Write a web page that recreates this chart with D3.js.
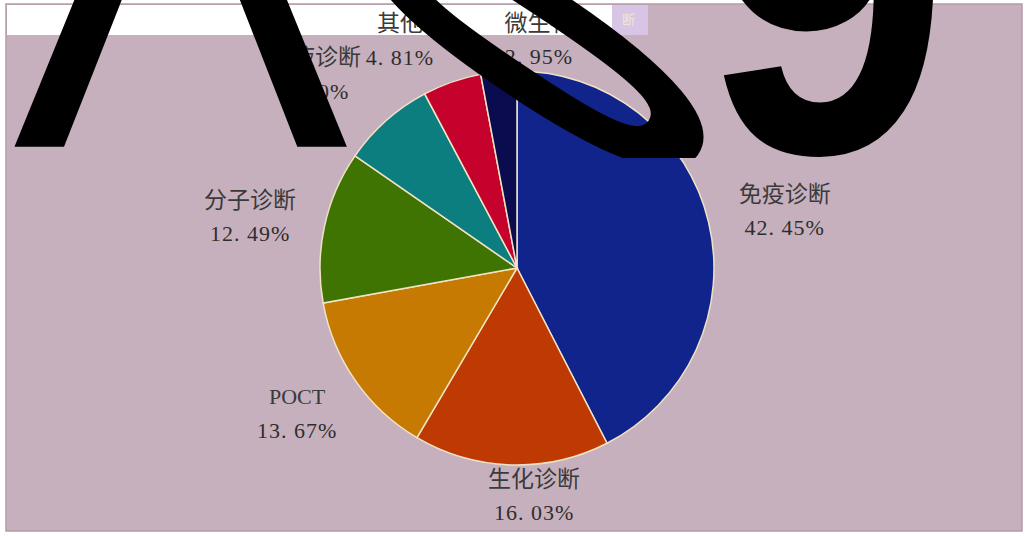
<!DOCTYPE html>
<html>
<head>
<meta charset="utf-8">
<script src="https://cdn.jsdelivr.net/npm/d3@7"></script>
<style>
body{margin:0;background:#fff}
svg{display:block}
</style>
</head>
<body>
<svg id="pie-svg" width="1027" height="536"></svg>
<script>
// 各细分市场份额
var names=['免疫诊断','生化诊断','POCT','分子诊断','血液诊断','其他','微生物']
var values=[42.45,16.03,13.67,12.49,7.60,4.81,2.95]
var colors=['#11248c','#bf3a02','#c77a02','#3f7402','#0c7e80','#c4022c','#0b0b4f']
// where each label sits: [angle in degrees from 12 o'clock, radius factor]
var labelAt=[[77.9,1.39],[175.7,1.158],[236.5,1.339],[280.9,1.38],[313.8,1.42],[332.8,1.30],[5.5,1.165]]

var svg=d3.select('#pie-svg')
var conf={cx:517,cy:268,r:197}

// chart area
svg.append('rect').attr('x',6).attr('y',4).attr('width',1016).attr('height',527)
    .attr('fill','#c7b0bd').attr('stroke','#b49ba9').attr('stroke-width',1.5)
svg.append('rect').attr('x',7).attr('y',5).attr('width',605).attr('height',30).attr('fill','#fff')
svg.append('rect').attr('x',612).attr('y',5).attr('width',36).attr('height',30).attr('fill','#d8c5e5')
svg.append('text').attr('x',622).attr('y',24).attr('font-size',13)
    .attr('font-family','Noto Sans CJK SC').attr('fill','#efe6cf').text('断')

var data=names.map((n,i)=>({name:n,value:values[i],color:colors[i],at:labelAt[i]}))
var pie=d3.pie().sort(null).value(d=>d.value)
var arc=d3.arc().innerRadius(0).outerRadius(conf.r)
var g=svg.append('g').attr('id','pie').attr('transform',`translate(${conf.cx},${conf.cy})`)
g.selectAll('path')
    .data(pie(data))
    .join('path')
    .attr('d',arc)
    .attr('fill',d=>d.data.color)
    .attr('stroke','#efe3c4')
    .attr('stroke-width',1.5)

var fmt=d3.format('.2f')
var lab=g.append('g').attr('id','labels')
    .selectAll('g')
    .data(data)
    .join('g')
    .attr('transform',d=>{
        var a=d.at[0]*Math.PI/180, k=d.at[1]*conf.r
        return `translate(${k*Math.sin(a)},${-k*Math.cos(a)})`
    })
lab.append('text')
    .attr('y',-17)
    .attr('dy','0.35em')
    .attr('text-anchor','middle')
    .attr('font-family','"Liberation Serif","Noto Sans CJK SC"')
    .attr('font-size',d=>d.name=='POCT'?22:23)
    .attr('fill','#3a3a3a')
    .text(d=>d.name)
lab.append('text')
    .attr('y',17)
    .attr('dy','0.35em')
    .attr('text-anchor','middle')
    .attr('font-family','"Liberation Serif"')
    .attr('font-size',22)
    .attr('letter-spacing',1)
    .attr('fill','#2e2e2e')
    .text(d=>fmt(d.value).replace('.','. ')+'%')

// big black glyphs lying over the top of the picture
svg.append('clipPath').attr('id','over-clip')
    .append('rect').attr('x',0).attr('y',0).attr('width',1027).attr('height',158)
var over=svg.append('g').attr('id','overlay').attr('clip-path','url(#over-clip)')
    .attr('font-family','"Liberation Sans"').attr('fill','#000')
over.append('text').attr('x',12).attr('y',147).attr('font-size',505).text('Λ')
over.append('g').attr('transform','translate(530,40) rotate(-56) scale(0.8,1.85)')
    .append('text').attr('y',107).attr('text-anchor','middle')
    .attr('font-size',300).attr('font-weight','bold').text('0')
over.append('g').attr('transform','translate(703,152) scale(0.88,1)')
    .append('text').attr('font-size',505).attr('font-weight','bold').text('9')
</script>
</body>
</html>
